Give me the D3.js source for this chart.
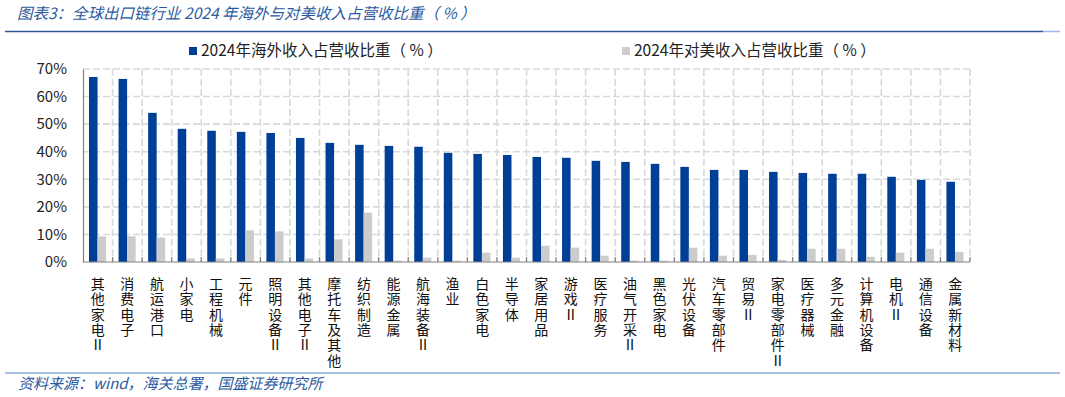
<!DOCTYPE html>
<html>
<head>
<meta charset="utf-8">
<script src="https://cdn.jsdelivr.net/npm/d3@7"></script>
<style>
  body { margin: 0; background: #fff; }
  text { font-family: "Noto Sans CJK SC", "Noto Sans", sans-serif; }
  .grid line { stroke: #d9d9d9; stroke-width: 1.6; stroke-dasharray: 7,3; }
</style>
</head>
<body>
<div id="chart"></div>
<script>
// categories (Ⅱ = second-level industry)
const categories = [
  '其他家电Ⅱ', '消费电子', '航运港口', '小家电', '工程机械', '元件', '照明设备Ⅱ', '其他电子Ⅱ',
  '摩托车及其他', '纺织制造', '能源金属', '航海装备Ⅱ', '渔业', '白色家电', '半导体', '家居用品',
  '游戏Ⅱ', '医疗服务', '油气开采Ⅱ', '黑色家电', '光伏设备', '汽车零部件', '贸易Ⅱ', '家电零部件Ⅱ',
  '医疗器械', '多元金融', '计算机设备', '电机Ⅱ', '通信设备', '金属新材料',
];
// 2024 overseas revenue share (%)
const overseasShare = [
  67.1, 66.4, 54.1, 48.3, 47.6, 47.2, 46.8, 45.0, 43.2, 42.5,
  42.1, 41.8, 39.6, 39.2, 38.8, 38.1, 37.8, 36.7, 36.3, 35.6,
  34.5, 33.4, 33.4, 32.7, 32.3, 32.0, 32.0, 30.9, 29.8, 29.1,
];
// 2024 US revenue share (%)
const usShare = [
  9.3, 9.3, 8.9, 1.3, 1.3, 11.5, 11.1, 1.3, 8.2, 17.9,
  0.5, 1.6, 0.5, 3.4, 1.6, 5.9, 5.2, 2.3, 0.5, 0.5,
  5.2, 2.3, 2.6, 0.8, 4.8, 4.8, 1.9, 3.4, 4.8, 3.7,
];
const seriesNames = ['2024年海外收入占营收比重（ % ）', '2024年对美收入占营收比重（ % ）'];
const yTicks = [0, 10, 20, 30, 40, 50, 60, 70];

class ShareBarChart {
  constructor(_config) {
    this.config = {
      parentElement: _config.parentElement,
      containerWidth: 1065,
      containerHeight: 397,
      margin: {
        top: 69, right: 95, bottom: 135, left: 83,
      },
      colors: ['#003f98', '#cccccc'],
    };
    this.initVis();
  }

  initVis() {
    const vis = this;
    const m = vis.config.margin;
    vis.width = vis.config.containerWidth - m.left - m.right;
    vis.height = vis.config.containerHeight - m.top - m.bottom;

    vis.svg = d3.select(vis.config.parentElement).append('svg')
      .attr('width', vis.config.containerWidth)
      .attr('height', vis.config.containerHeight);

    // title + rules
    vis.svg.append('text')
      .attr('x', 17).attr('y', 19)
      .attr('font-size', 15.5).attr('font-style', 'italic')
      .attr('fill', '#2c5aa0')
      .text('图表3：全球出口链行业 2024 年海外与对美收入占营收比重（ % ）');
    vis.svg.append('line')
      .attr('x1', 5).attr('x2', 1043).attr('y1', 31.5).attr('y2', 31.5)
      .attr('stroke', '#2f5597').attr('stroke-width', 1.5);
    vis.svg.append('line')
      .attr('x1', 1043).attr('x2', 1060).attr('y1', 31.5).attr('y2', 31.5)
      .attr('stroke', '#9db8e8').attr('stroke-width', 1.5);
    vis.svg.append('line')
      .attr('x1', 5).attr('x2', 1060).attr('y1', 373).attr('y2', 373)
      .attr('stroke', '#8eaadb').attr('stroke-width', 1.5);
    vis.svg.append('text')
      .attr('x', 18).attr('y', 389)
      .attr('font-size', 15).attr('font-style', 'italic')
      .attr('fill', '#2c5aa0')
      .text('资料来源：wind，海关总署，国盛证券研究所');

    // legend
    const legendX = [189, 622];
    const legend = vis.svg.selectAll('.legend')
      .data(seriesNames)
      .join('g')
      .attr('class', 'legend')
      .attr('transform', (d, i) => `translate(${legendX[i]},47)`);
    legend.append('rect')
      .attr('width', 8).attr('height', 8)
      .attr('fill', (d, i) => vis.config.colors[i]);
    legend.append('text')
      .attr('x', 12).attr('y', 8.5)
      .attr('font-size', 15.5).attr('fill', '#222')
      .text((d) => d);

    vis.chart = vis.svg.append('g')
      .attr('transform', `translate(${m.left},${m.top})`);

    vis.xScale = d3.scaleBand()
      .domain(categories)
      .range([0, vis.width]);
    vis.subScale = d3.scaleBand()
      .domain([0, 1])
      .range([6, vis.xScale.bandwidth() - 6.5]);
    vis.yScale = d3.scaleLinear()
      .domain([0, 70])
      .range([vis.height, 0]);

    vis.renderVis();
  }

  renderVis() {
    const vis = this;
    const bw = vis.xScale.bandwidth();

    // dashed grid
    const grid = vis.chart.append('g').attr('class', 'grid');
    grid.selectAll('.h')
      .data(yTicks.filter((d) => d > 0))
      .join('line')
      .attr('x1', 0).attr('x2', vis.width)
      .attr('y1', (d) => vis.yScale(d)).attr('y2', (d) => vis.yScale(d));
    grid.selectAll('.v')
      .data(categories)
      .join('line')
      .attr('x1', (d) => vis.xScale(d) + bw).attr('x2', (d) => vis.xScale(d) + bw)
      .attr('y1', 0).attr('y2', vis.height);

    // bars
    const groups = vis.chart.selectAll('.cat')
      .data(categories.map((c, i) => [c, [overseasShare[i], usShare[i]]]))
      .join('g')
      .attr('class', 'cat')
      .attr('transform', (d) => `translate(${vis.xScale(d[0])},0)`);
    groups.selectAll('rect')
      .data((d) => d[1])
      .join('rect')
      .attr('x', (d, i) => vis.subScale(i))
      .attr('width', vis.subScale.bandwidth())
      .attr('y', (d) => vis.yScale(d))
      .attr('height', (d) => vis.yScale(0) - vis.yScale(d))
      .attr('fill', (d, i) => vis.config.colors[i]);

    // y axis
    const yAxis = d3.axisLeft(vis.yScale)
      .tickValues(yTicks)
      .tickFormat((d) => `${d}%`)
      .tickSize(0)
      .tickPadding(16);
    vis.chart.append('g')
      .call(yAxis)
      .call((g) => g.select('.domain').attr('stroke', '#808080').attr('stroke-width', 1.2))
      .call((g) => g.selectAll('.tick text')
        .attr('font-family', 'Open Sans, Noto Sans, sans-serif')
        .attr('font-size', 15).attr('fill', '#222'));

    // x axis with inner ticks at band edges
    vis.chart.append('line')
      .attr('x1', 0).attr('x2', vis.width)
      .attr('y1', vis.height).attr('y2', vis.height)
      .attr('stroke', '#808080').attr('stroke-width', 1.2);
    vis.chart.selectAll('.xtick')
      .data(categories)
      .join('line')
      .attr('class', 'xtick')
      .attr('x1', (d) => vis.xScale(d) + bw).attr('x2', (d) => vis.xScale(d) + bw)
      .attr('y1', vis.height - 5).attr('y2', vis.height)
      .attr('stroke', '#808080').attr('stroke-width', 1.2);

    // vertical category labels, one character per line
    const labels = vis.chart.selectAll('.xlabel')
      .data(categories)
      .join('text')
      .attr('class', 'xlabel')
      .attr('font-size', 14)
      .attr('fill', '#111')
      .attr('text-anchor', 'middle');
    labels.selectAll('tspan')
      .data((d) => Array.from(d).map((ch) => ({ ch, cat: d })))
      .join('tspan')
      .attr('x', (d) => vis.xScale(d.cat) + bw / 2)
      .attr('y', (d, i) => vis.height + 27 + i * 15.3)
      .text((d) => d.ch);
  }
}

new ShareBarChart({ parentElement: '#chart' });
</script>
</body>
</html>
